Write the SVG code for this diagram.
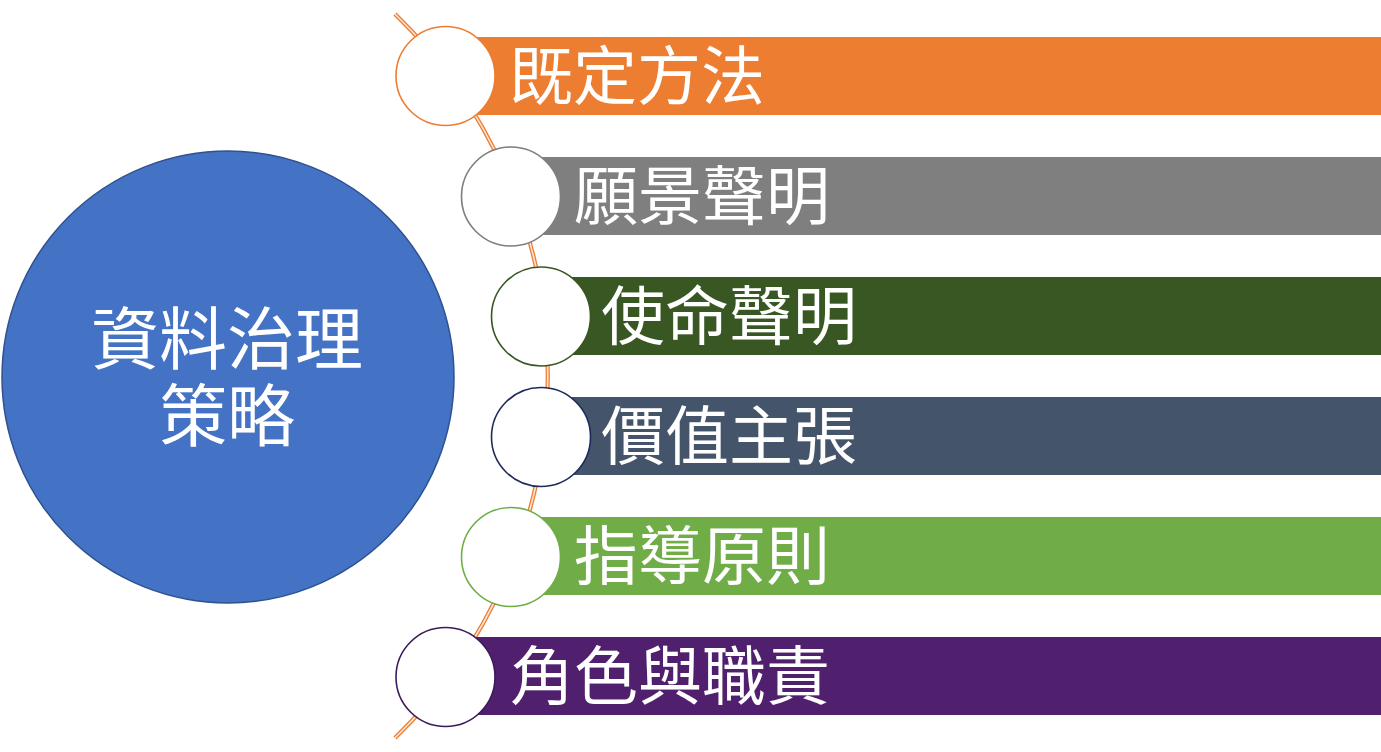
<svg xmlns="http://www.w3.org/2000/svg" width="1381" height="752" viewBox="0 0 1381 752">
  <style>
    .lbl { font-family: "Noto Sans CJK TC", "Noto Sans CJK SC", sans-serif; font-size: 64px; fill: #ffffff; }
    .hub { font-family: "Noto Sans CJK TC", "Noto Sans CJK SC", sans-serif; font-size: 68px; fill: #ffffff; text-anchor: middle; }
    .dot { fill: #ffffff; stroke-width: 1.6; }
  </style>
  <rect x="0" y="0" width="1381" height="752" fill="#ffffff"/>

  <g id="hub">
    <circle cx="228" cy="377" r="226" fill="#4472C4" stroke="#2F528F" stroke-width="1.5"/>
    <text class="hub" x="227" y="364">資料治理<tspan x="227" dy="77">策略</tspan></text>
  </g>

  <g id="connectors">
    <path d="M 395 14 A 505.3 505.3 0 0 1 395 738" fill="none" stroke="#ED7D31" stroke-width="4.2"/>
    <path d="M 395 14 A 505.3 505.3 0 0 1 395 738" fill="none" stroke="#FBE5D6" stroke-width="1.6"/>
  </g>

  <g id="item1">
    <rect x="445" y="37" width="936" height="78" fill="#ED7D31"/>
    <circle class="dot" cx="445.5" cy="76" r="49.5" stroke="#ED7D31"/>
    <text class="lbl" x="509" y="99">既定方法</text>
  </g>
  <g id="item2">
    <rect x="511" y="157" width="870" height="78" fill="#7F7F7F"/>
    <circle class="dot" cx="511" cy="196.5" r="49.5" stroke="#7F7F7F"/>
    <text class="lbl" x="574" y="219">願景聲明</text>
  </g>
  <g id="item3">
    <rect x="541" y="277" width="840" height="78" fill="#385723"/>
    <circle class="dot" cx="541" cy="316.5" r="49.5" stroke="#385723"/>
    <text class="lbl" x="601" y="339">使命聲明</text>
  </g>
  <g id="item4">
    <rect x="541" y="397" width="840" height="78" fill="#44546A"/>
    <circle class="dot" cx="541" cy="437" r="49.5" stroke="#1F2A5C"/>
    <text class="lbl" x="601" y="459">價值主張</text>
  </g>
  <g id="item5">
    <rect x="511" y="517" width="870" height="78" fill="#70AD47"/>
    <circle class="dot" cx="511" cy="557" r="49.5" stroke="#70AD47"/>
    <text class="lbl" x="574" y="579">指導原則</text>
  </g>
  <g id="item6">
    <rect x="445" y="637" width="936" height="78" fill="#50206E"/>
    <circle class="dot" cx="445.5" cy="677" r="49.5" stroke="#3C1A5B"/>
    <text class="lbl" x="510" y="699">角色與職責</text>
  </g>
</svg>
